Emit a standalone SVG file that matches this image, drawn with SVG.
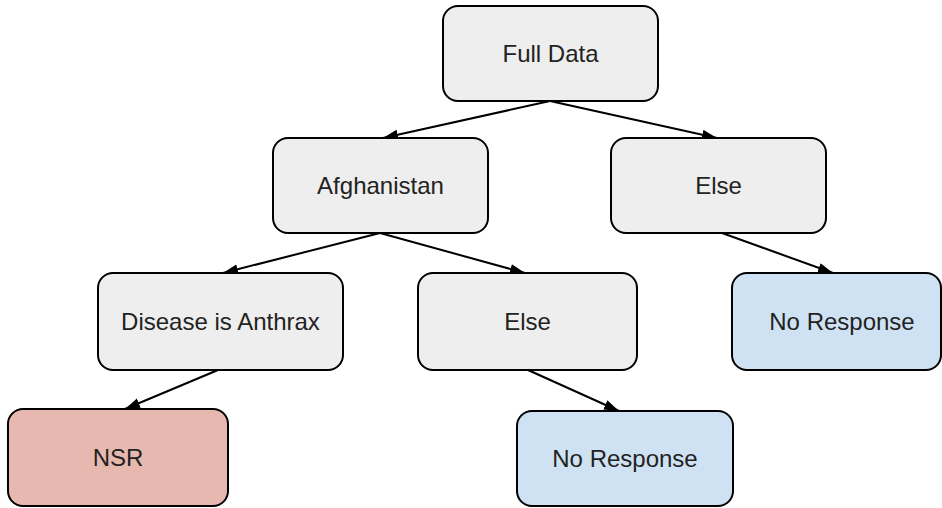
<svg xmlns="http://www.w3.org/2000/svg" width="942" height="508" viewBox="0 0 942 508">
  <defs>
    <style>
      .box { stroke: #000; stroke-width: 2; }
      .grey { fill: #eeeeee; }
      .red { fill: #e6b8af; }
      .blue { fill: #cfe2f3; }
      .label { font-family: "Liberation Sans", Arial, sans-serif; font-size: 24px; fill: #222; text-anchor: middle; }
      .edge { stroke: #000; stroke-width: 2; fill: none; marker-end: url(#arrow); }
    </style>
    <marker id="arrow" markerUnits="userSpaceOnUse" markerWidth="16" markerHeight="12" refX="15" refY="5" orient="auto">
      <path d="M0,0 L15,5 L0,10 Z" fill="#000"/>
    </marker>
  </defs>

  <g id="connectors">
    <line class="edge" x1="550" y1="101" x2="383" y2="138"/>
    <line class="edge" x1="550" y1="101" x2="717" y2="138"/>
    <line class="edge" x1="380" y1="233" x2="223" y2="273"/>
    <line class="edge" x1="380" y1="233" x2="525" y2="273"/>
    <line class="edge" x1="722" y1="233" x2="833" y2="273"/>
    <line class="edge" x1="218" y1="370" x2="125" y2="409"/>
    <line class="edge" x1="528" y1="370" x2="619" y2="411"/>
  </g>

  <g id="full-data">
    <rect class="box grey" x="443" y="6" width="215" height="95" rx="15"/>
    <text class="label" x="550.5" y="62">Full Data</text>
  </g>

  <g id="afghanistan">
    <rect class="box grey" x="273" y="138" width="215" height="95" rx="15"/>
    <text class="label" x="380.5" y="194">Afghanistan</text>
  </g>

  <g id="else-top">
    <rect class="box grey" x="611" y="138" width="215" height="95" rx="15"/>
    <text class="label" x="718.5" y="194">Else</text>
  </g>

  <g id="disease-anthrax">
    <rect class="box grey" x="98" y="273" width="245" height="97" rx="15"/>
    <text class="label" x="220.5" y="330">Disease is Anthrax</text>
  </g>

  <g id="else-mid">
    <rect class="box grey" x="418" y="273" width="219" height="97" rx="15"/>
    <text class="label" x="527.5" y="330">Else</text>
  </g>

  <g id="no-response-right">
    <rect class="box blue" x="732" y="273" width="209" height="97" rx="15"/>
    <text class="label" x="842" y="330">No Response</text>
  </g>

  <g id="nsr">
    <rect class="box red" x="8" y="409" width="220" height="97" rx="15"/>
    <text class="label" x="118" y="466">NSR</text>
  </g>

  <g id="no-response-bottom">
    <rect class="box blue" x="517" y="411" width="216" height="95" rx="15"/>
    <text class="label" x="625" y="467">No Response</text>
  </g>
</svg>
